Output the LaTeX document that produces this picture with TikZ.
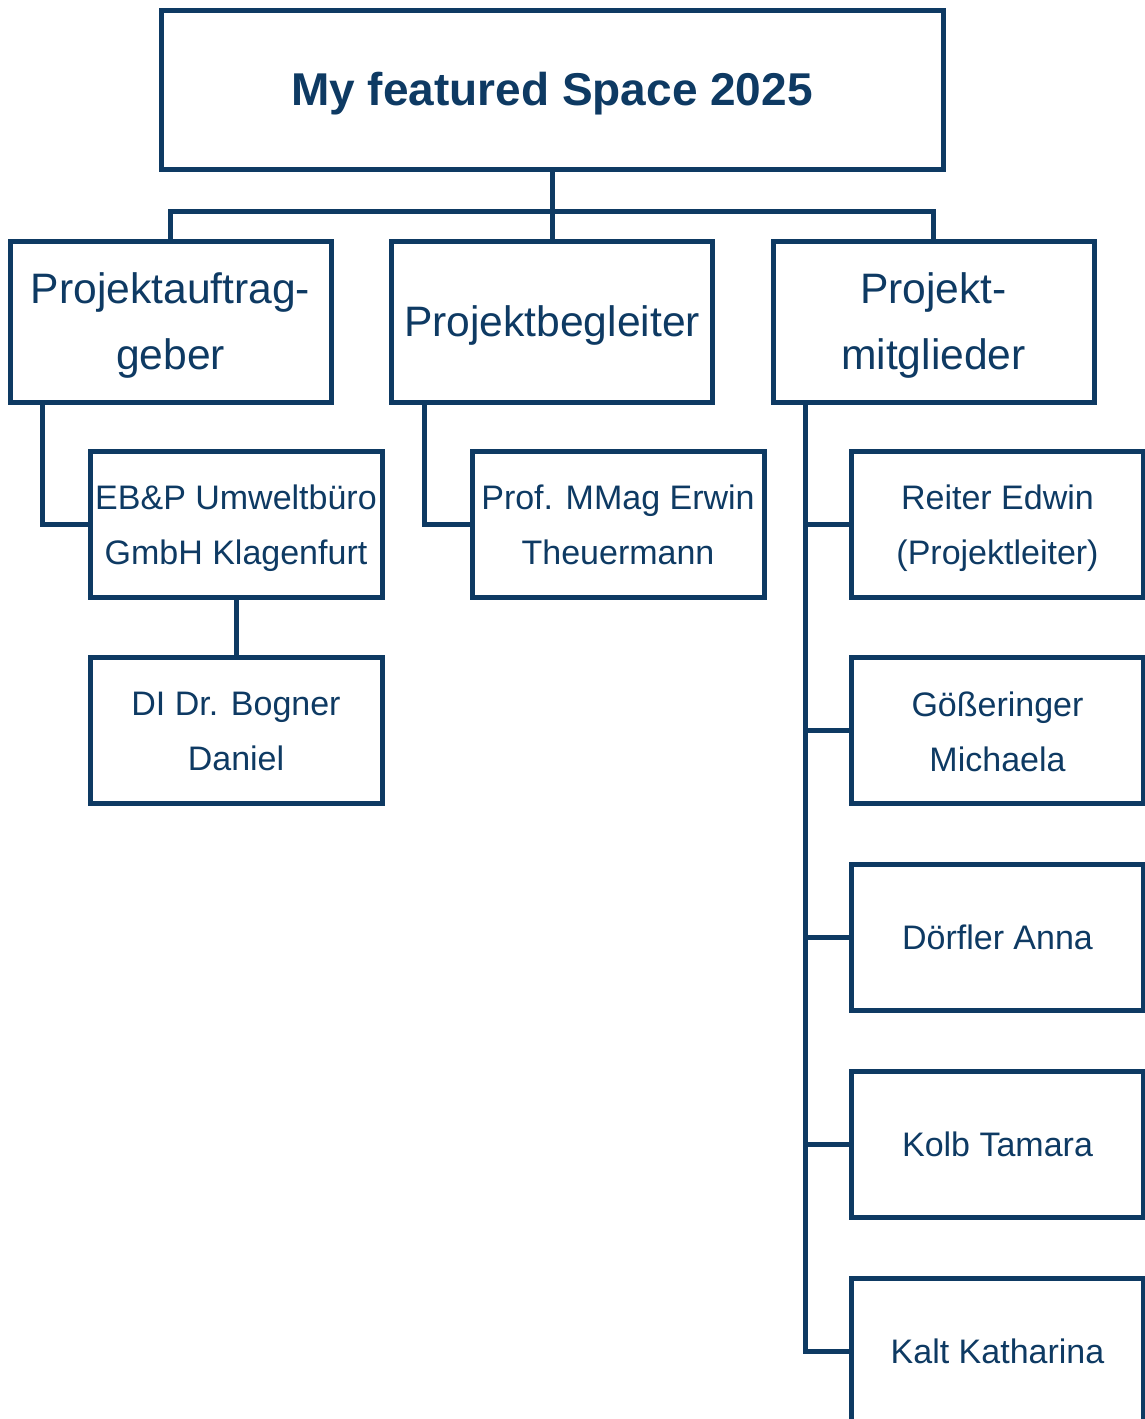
\documentclass[tikz,border=0pt]{standalone}
\usepackage{fontspec}
\setmainfont{Liberation Sans}
\definecolor{navy}{RGB}{14,58,99}
\begin{document}
\begin{tikzpicture}[x=1pt,y=-1pt,
  box/.style={draw=navy,line width=5pt,fill=white,inner sep=0pt,rectangle},
  lab/.style={align=center,text=navy,inner sep=0pt,yshift=-4pt},
  topbox/.style={box,minimum width=782pt,minimum height=159pt},
  midbox/.style={box,minimum width=321pt,minimum height=161pt},
  lowbox/.style={box,minimum width=292pt,minimum height=146pt},
  toplab/.style={lab,font=\fontsize{46}{55}\selectfont\bfseries},
  midlab/.style={lab,font=\fontsize{42.6}{66}\selectfont},
  lowlab/.style={lab,font=\fontsize{34}{55}\selectfont},
  onelab/.style={lowlab,yshift=4pt},
  flatlab/.style={lowlab,yshift=3pt},
  link/.style={draw=navy,line width=5pt}]
\clip (0,0) rectangle (1145,1419);
\useasboundingbox (0,0) rectangle (1145,1419);
% nodes
\node[topbox,label={[toplab,name=rootl]center:My featured Space 2025}] (root) at (552,89.5) {};
\node[midbox,label={[midlab,name=pal]center:Projektauftrag-\\geber}] (pa) at (170.5,321.5) {};
\node[midbox,label={[midlab,name=pbl]center:Projektbegleiter}] (pb) at (552,321.5) {};
\node[midbox,label={[midlab,name=pml]center:Projekt-\\mitglieder}] (pm) at (933.5,321.5) {};
\node[lowbox,label={[lowlab,name=ebl]center:EB\&P Umweltbüro\\GmbH Klagenfurt}] (eb) at (236,524) {};
\node[lowbox,label={[flatlab,name=dil]center:DI Dr. Bogner\\Daniel}] (di) at (236,730.5) {};
\node[lowbox,label={[flatlab,name=prl]center:Prof. MMag Erwin\\Theuermann}] (pr) at (618,524) {};
\node[lowbox,label={[lowlab,name=rel]center:Reiter Edwin\\(Projektleiter)}] (re) at (997.5,524) {};
\node[lowbox,label={[flatlab,name=gml]center:Gößeringer\\Michaela}] (gm) at (997.5,730.5) {};
\node[lowbox,label={[onelab,name=dal]center:Dörfler Anna}] (da) at (997.5,937.5) {};
\node[lowbox,label={[onelab,name=ktl]center:Kolb Tamara}] (kt) at (997.5,1144) {};
\node[lowbox,label={[onelab,name=kkl]center:Kalt Katharina}] (kk) at (997.5,1351) {};
% connectors
\coordinate (bar) at (552,211);
\draw[link] (root.south) -- (bar);
\draw[link] (pa.north) -- (pa.north |- bar) -- (pm.north |- bar) -- (pm.north);
\draw[link] (bar) -- (pb.north);
\coordinate (pad) at (42,402);
\draw[link] (pad) |- (eb.west);
\draw[link] (eb.south) -- (di.north);
\coordinate (pbd) at (424,402);
\draw[link] (pbd) |- (pr.west);
\coordinate (pmd) at (805,402);
\draw[link] (pmd) |- (kk.west);
\draw[link] (re.west -| pmd) -- (re.west);
\draw[link] (gm.west -| pmd) -- (gm.west);
\draw[link] (da.west -| pmd) -- (da.west);
\draw[link] (kt.west -| pmd) -- (kt.west);
\end{tikzpicture}
\end{document}
